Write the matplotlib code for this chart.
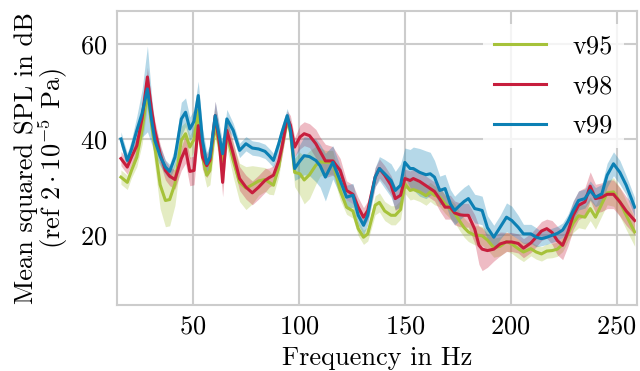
import numpy as np
import matplotlib
matplotlib.use("Agg")
import matplotlib.pyplot as plt

plt.rcParams["font.family"] = ["cmr10", "DejaVu Serif"]
plt.rcParams["mathtext.fontset"] = "cm"
plt.rcParams["axes.formatter.use_mathtext"] = True

# shared frequency grid (Hz)
freq = [16, 19, 21, 23.5, 26, 28.5, 30.5, 32, 34.5, 37, 39, 41.5, 44.5, 46.5, 48.5, 50.5,
        52.5, 54.5, 56.5, 58, 60.5, 62.5, 64, 66, 69, 72, 75, 78, 81, 84, 86, 88, 90.5, 92,
        94.5, 96, 98, 100.5, 102.5, 105, 108, 110, 112.5, 116, 119.5, 122.5, 125.5, 128,
        130.5, 132.5, 136, 138, 140.5, 143.5, 145.5, 148, 150, 152.5, 154, 157, 160, 162,
        164, 166.5, 169, 171.5, 173.5, 176, 178, 180, 183, 185, 186.5, 189, 192, 195, 198,
        200.5, 203.5, 206, 209.5, 212, 214.5, 217, 219.5, 222, 224.5, 227, 229.5, 232, 235,
        237.5, 240, 243, 245.5, 248.5, 251.5, 254.5, 258.5]

v95 = [32.1, 31.0, 33.5, 36.3, 42.0, 49.9, 43.0, 38.5, 30.5, 27.2, 27.4, 30.7, 39.8, 41.2,
       38.4, 40.0, 46.1, 36.3, 32.5, 33.5, 43.3, 38.4, 35.5, 41.2, 35.6, 31.0, 29.8, 30.5,
       31.3, 31.6, 31.0, 30.4, 34.2, 38.5, 44.0, 41.5, 33.1, 32.8, 31.5, 32.6, 34.6, 35.3,
       35.2, 35.2, 29.3, 25.8, 25.0, 21.3, 19.5, 20.2, 26.2, 26.8, 25.0, 24.1, 24.1, 25.3,
       30.7, 29.3, 29.5, 29.0, 28.2, 29.0, 28.3, 27.9, 26.5, 25.4, 24.6, 22.8, 21.5, 20.6,
       19.9, 19.9, 19.8, 18.9, 17.3, 17.6, 18.6, 18.1, 17.1, 16.4, 17.1, 16.4, 16.0, 16.6,
       16.7, 17.0, 18.0, 20.2, 22.5, 24.0, 23.7, 25.5, 23.7, 26.5, 28.8, 29.0, 26.9, 24.1,
       20.6]
v98 = [36.0, 34.2, 36.3, 38.7, 44.5, 53.1, 46.0, 41.9, 37.0, 33.5, 32.3, 31.6, 36.0, 38.0,
       33.3, 33.5, 42.9, 36.3, 34.5, 35.6, 45.0, 39.1, 31.0, 41.9, 37.0, 31.8, 30.0, 28.8,
       30.0, 31.4, 32.0, 32.5, 35.5, 38.4, 44.5, 43.0, 38.4, 40.5, 41.2, 40.8, 39.1, 37.5,
       35.5, 35.5, 33.5, 29.3, 28.5, 25.8, 23.7, 25.1, 32.1, 33.9, 32.5, 30.4, 27.6, 28.3,
       31.8, 31.4, 31.8, 31.2, 30.3, 29.7, 29.1, 27.5, 25.8, 25.8, 24.6, 24.2, 24.1, 24.1,
       21.2, 17.8, 17.0, 16.7, 17.0, 18.1, 18.5, 18.5, 18.2, 17.2, 18.3, 19.5, 20.8, 21.3,
       20.5, 18.8, 17.8, 20.6, 24.1, 26.2, 26.9, 30.2, 27.6, 27.9, 28.5, 28.5, 26.9, 25.0,
       23.0]
v99 = [40.1, 35.6, 38.0, 41.9, 45.5, 50.6, 44.0, 39.8, 36.5, 34.2, 33.3, 36.3, 44.3, 45.7,
       42.2, 43.8, 49.2, 39.8, 34.9, 36.3, 45.0, 40.5, 37.0, 44.3, 41.9, 37.7, 39.1, 38.2,
       38.0, 37.5, 36.6, 35.6, 39.1, 41.5, 45.0, 41.9, 33.9, 35.5, 36.6, 36.4, 35.6, 34.5,
       32.1, 35.2, 31.4, 27.9, 28.3, 24.1, 22.0, 24.1, 32.1, 33.9, 32.8, 31.4, 29.3, 30.4,
       35.2, 33.9, 33.9, 33.1, 32.6, 32.8, 32.1, 29.3, 29.7, 26.5, 25.1, 26.2, 27.0, 27.6,
       25.5, 25.3, 25.1, 21.5, 19.5, 21.6, 23.7, 23.0, 21.6, 20.2, 20.2, 19.5, 19.2, 19.5,
       19.9, 20.3, 21.0, 22.8, 25.1, 27.2, 27.6, 29.3, 27.9, 28.6, 32.5, 34.9, 33.1, 30.4,
       25.8]

# spread around each mean (half width of shaded band, dB)
s95 = [1.5, 1.5, 1.5, 2.0, 3.0, 3.0, 3.0, 4.0, 5.0, 5.5, 5.5, 4.5, 3.0, 2.5, 2.5, 2.5,
       2.5, 2.5, 2.5, 3.0, 3.0, 3.0, 3.0, 3.0, 3.5, 4.0, 4.5, 4.0, 3.0, 2.5, 2.5, 2.0, 2.0,
       2.0, 1.5, 2.0, 3.0, 4.5, 5.0, 5.0, 4.0, 3.0, 2.5, 2.5, 2.0, 1.5, 1.5, 1.5, 1.5, 1.5,
       2.0, 2.0, 2.0, 2.0, 2.0, 2.0, 2.0, 2.0, 2.0, 2.0, 2.0, 2.0, 2.0, 2.0, 2.0, 2.0, 2.0,
       2.0, 2.0, 2.0, 2.0, 2.0, 2.0, 2.0, 2.0, 2.0, 2.0, 2.0, 2.0, 2.0, 1.5, 1.5, 1.5, 1.5,
       1.5, 1.5, 1.5, 1.5, 2.0, 2.5, 2.5, 2.5, 2.5, 2.5, 2.5, 3.0, 3.0, 3.0, 3.0]
s98 = [1.5, 1.5, 1.5, 2.0, 2.0, 2.0, 2.0, 2.0, 2.0, 2.0, 2.0, 2.0, 2.5, 3.0, 3.0, 3.0,
       2.5, 2.5, 2.5, 2.5, 3.0, 3.0, 3.0, 2.5, 2.5, 2.5, 2.5, 2.5, 2.5, 2.5, 2.0, 2.0, 2.0,
       2.0, 1.5, 2.0, 2.0, 2.5, 2.5, 2.5, 3.0, 3.0, 3.5, 3.0, 2.5, 2.0, 2.0, 2.0, 2.0, 2.0,
       2.0, 2.0, 2.0, 2.0, 2.5, 2.5, 2.0, 2.0, 2.0, 2.0, 2.0, 2.0, 2.0, 2.5, 2.5, 2.5, 2.5,
       2.5, 2.5, 2.5, 3.0, 4.0, 4.5, 3.5, 2.5, 2.5, 2.0, 2.0, 2.0, 2.0, 2.0, 2.0, 2.0, 2.0,
       2.5, 3.0, 3.0, 3.0, 3.0, 3.0, 3.0, 3.0, 3.0, 3.0, 3.0, 3.0, 3.0, 3.0, 3.0]
s99 = [1.5, 1.5, 2.0, 3.0, 5.0, 9.0, 5.0, 3.0, 2.0, 1.5, 1.5, 2.0, 3.5, 3.0, 2.5, 2.5,
       3.0, 2.5, 2.5, 2.5, 3.0, 2.5, 2.5, 2.0, 1.5, 1.5, 1.5, 1.5, 1.5, 1.5, 1.5, 1.5, 1.5,
       1.5, 1.5, 2.0, 2.5, 3.5, 4.0, 4.0, 4.5, 4.5, 5.0, 3.5, 3.0, 2.5, 2.5, 2.0, 2.0, 2.0,
       2.0, 2.5, 3.0, 3.5, 4.0, 4.5, 3.0, 4.0, 4.5, 5.0, 5.0, 4.5, 3.5, 3.0, 3.0, 3.0, 3.0,
       3.0, 3.0, 3.0, 3.0, 3.0, 3.0, 2.5, 2.5, 2.5, 3.0, 3.0, 2.5, 2.0, 2.0, 2.0, 1.5, 1.5,
       1.5, 1.5, 1.5, 1.5, 2.0, 2.0, 2.0, 2.0, 2.0, 2.0, 2.5, 2.5, 2.5, 2.0, 2.0]

series = [("v95", v95, s95, "#a6c23a"), ("v98", v98, s98, "#c71e3d"), ("v99", v99, s99, "#0c80b4")]

fig, ax = plt.subplots(figsize=(6.4, 3.71), dpi=100)
fig.subplots_adjust(left=0.183, right=0.995, top=0.970, bottom=0.178)

f = np.array(freq)
for name, mean, spread, col in series:
    m = np.array(mean)
    s = np.array(spread)
    ax.fill_between(f, m - s, m + s, color=col, alpha=0.3, linewidth=0)
for name, mean, spread, col in series:
    ax.plot(f, mean, color=col, lw=2.2, label=name)

ax.set_xlim(14.2, 259.5)
ax.set_ylim(5.3, 66.9)
ax.set_xticks([50, 100, 150, 200, 250])
ax.set_yticks([20, 40, 60])
ax.grid(True, color="#cccccc", lw=1.5)
ax.set_axisbelow(True)
for sp in ax.spines.values():
    sp.set_color("#cccccc")
    sp.set_linewidth(1.5)
ax.tick_params(length=0, labelsize=19, pad=7)
ax.set_xlabel("Frequency in Hz", fontsize=19, labelpad=6)
ax.set_ylabel("Mean squared SPL in dB\n(ref $2 \\cdot 10^{-5}$ Pa)", fontsize=19,
              linespacing=0.95, labelpad=7)

leg = ax.legend(loc="upper right", fontsize=19, frameon=True, facecolor="white",
                edgecolor="none", framealpha=0.8, handlelength=2.0, borderpad=0.4,
                labelspacing=0.6, handletextpad=1.0)

fig.savefig("out.png", dpi=100)
